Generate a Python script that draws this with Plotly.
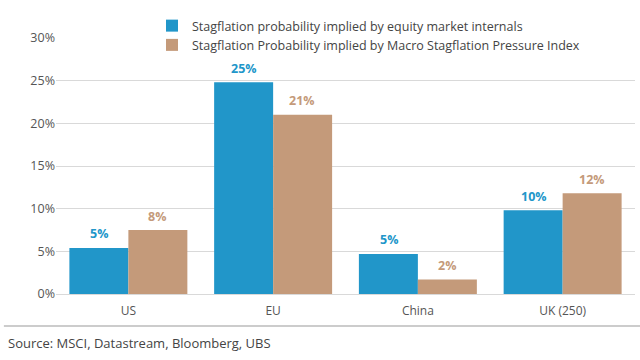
import plotly.graph_objects as go

categories = ["US", "EU", "China", "UK (250)"]
equity = [5.4, 24.8, 4.7, 9.8]
macro = [7.5, 21.0, 1.7, 11.8]
labels_equity = ["5%", "25%", "5%", "10%"]
labels_macro = ["8%", "21%", "2%", "12%"]
name_equity = "Stagflation probability implied by equity market internals"
name_macro = "Stagflation Probability implied by Macro Stagflation Pressure Index"

blue = "#2196C9"
tan = "#C49A7A"
font = "Open Sans"

fig = go.Figure()
fig.add_bar(x=categories, y=equity, name=name_equity, marker_color=blue,
            marker_line_width=0)
fig.add_bar(x=categories, y=macro, name=name_macro, marker_color=tan,
            marker_line_width=0)

for i, c in enumerate(categories):
    fig.add_annotation(x=c, y=equity[i], text="<b>%s</b>" % labels_equity[i],
                       xshift=-29, yshift=14, showarrow=False,
                       font=dict(color=blue, size=12.5, family=font))
    fig.add_annotation(x=c, y=macro[i], text="<b>%s</b>" % labels_macro[i],
                       xshift=29, yshift=14, showarrow=False,
                       font=dict(color=tan, size=12.5, family=font))

fig.add_shape(type="line", xref="paper", yref="paper", x0=-0.09, x1=1.01,
              y0=-0.125, y1=-0.125, line=dict(color="#cccccc", width=2))
fig.add_annotation(xref="paper", yref="paper", x=-0.087, y=-0.19,
                   xanchor="left", yanchor="middle", showarrow=False,
                   text="Source: MSCI, Datastream, Bloomberg, UBS",
                   font=dict(size=13, color="#444", family=font))

fig.update_layout(
    width=640, height=360,
    margin=dict(l=56, r=5, t=38, b=66, autoexpand=False),
    paper_bgcolor="white", plot_bgcolor="white",
    barmode="group", bargap=0.185, bargroupgap=0,
    font=dict(family=font, color="#555", size=12),
    showlegend=True,
    legend=dict(xref="container", yref="container", x=152 / 640,
                y=1 - 11 / 360, xanchor="left", yanchor="top",
                bgcolor="rgba(0,0,0,0)", font=dict(size=12.5, color="#444"),
                itemwidth=30, tracegroupgap=0),
    yaxis=dict(range=[0, 30], dtick=5, ticksuffix="%", showgrid=True,
               gridcolor="#d9d9d9", gridwidth=1, zeroline=False,
               showline=False, tickfont=dict(size=12.5, color="#555"),
               ticks="", ticklen=0, automargin=False),
    xaxis=dict(showline=True, linecolor="#d9d9d9", linewidth=1,
               tickfont=dict(size=12, color="#555"), ticks="",
               ticklabelstandoff=6, automargin=False),
)

fig.write_html("out.html", config={"displayModeBar": False},
               post_script="document.body.style.margin='0';document.body.style.overflow='hidden';")
